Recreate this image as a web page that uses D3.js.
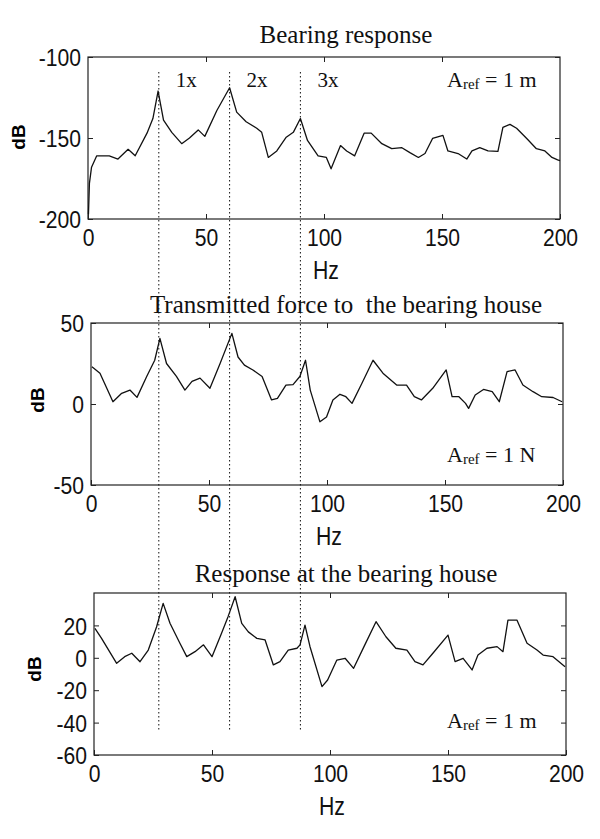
<!DOCTYPE html>
<html>
<head>
<meta charset="utf-8">
<script src="https://cdn.jsdelivr.net/npm/d3@7"></script>
<style>
  body { margin: 0; background: #fff; }
</style>
</head>
<body>
<div class="container"></div>
<script>
// frequency axis ticks
let hzTicks = [0, 50, 100, 150, 200]

// harmonic markers (Hz)
let harmonics = [30, 60, 90]
let harmonicNames = ['1x', '2x', '3x']

// bearing response, dB re 1 m
let hz1 = [0.2, 0.6, 1.5, 3.7, 9, 12.7, 17, 20, 25, 27.5, 29.7, 32, 35.5, 39.7, 43, 46.7, 49.5, 54.6, 60, 63, 67, 71.5, 73.6, 76.4, 80, 84, 87, 90, 93, 97.5, 101, 103, 107, 109.6, 113, 117, 120, 124.5, 128.7, 133, 136.4, 140, 142.8, 146, 150.4, 152.5, 156.8, 160.5, 162.7, 166, 169.5, 173.7, 175.8, 178.8, 181.6, 185.9, 190, 193.6, 196.6, 199, 200]
let db1 = [-197, -178, -168, -161, -161, -163, -157, -161, -147, -138, -121, -139, -146.5, -153.5, -150, -145, -149, -133, -119, -134, -140, -144, -146.5, -162, -158, -149.5, -146.5, -138, -151.5, -161, -162, -169, -154.7, -158, -161, -147, -147, -153.5, -156.6, -156, -159, -162, -159.6, -150.3, -148.4, -158, -159.6, -163, -158, -156, -158, -158.3, -143.5, -141.6, -144, -150.3, -156.6, -158, -162, -163.5, -164]

// transmitted force, dB re 1 N
let hz2 = [0.4, 3.8, 9.3, 13, 16.5, 19.5, 23.6, 27, 29.2, 32, 36.2, 39.8, 42.8, 46.2, 50.4, 54.7, 59.7, 62.3, 65, 68.6, 72.5, 76.5, 79, 82.6, 85.6, 88.5, 90.9, 92.9, 97, 99.8, 102.5, 105.5, 108, 110.6, 114.8, 119.5, 123.7, 129.5, 133.7, 137, 140, 144.8, 150.5, 153, 155.9, 158.7, 160, 162.8, 166.3, 170, 173, 176.3, 179.7, 183, 187.3, 191, 195.8, 199.6]
let db2 = [23, 19, 1.4, 6.6, 8.6, 4.1, 17, 27, 40.5, 25, 17, 8.6, 14, 16, 9.7, 25, 43.6, 29, 24, 21, 17, 2.5, 3.5, 11.7, 12, 17, 27, 8.6, -11, -8, 2.5, 6, 4.5, 0.4, 12.8, 27, 19, 11.7, 11.7, 4.5, 2.5, 9.7, 21, 4.5, 4.5, 0.4, -2.7, 5.6, 9, 7.6, 1.4, 20, 21, 11.7, 7.6, 4.5, 4, 1.4]

// response at bearing house, dB re 1 m
let hz3 = [0.4, 3.2, 9.6, 13, 16, 19.5, 23, 26.5, 29.3, 32.2, 36.4, 39.3, 42.8, 46.4, 50, 54, 56.8, 59.8, 62.6, 65.4, 69, 72.5, 76, 78.8, 82.3, 86, 87.3, 89.4, 91.5, 96.6, 99, 102.9, 106.4, 110, 114.4, 119.5, 123.7, 127.9, 132.6, 136, 139.4, 143.6, 150, 153, 156.4, 160.2, 162.7, 166.5, 170.8, 173.3, 175.4, 179.2, 183.5, 187.7, 190.3, 194.5, 199.6]
let db3 = [18.2, 12, -3.4, 0.7, 2.8, -2.4, 4.8, 19, 33.6, 21.3, 9, 0.7, 3.8, 8, 0.7, 15, 25.4, 37.7, 21.3, 16, 12, 11, -4.4, -2.4, 4.8, 5.9, 8, 20.2, 7, -17.8, -13.7, -1.4, -0.3, -6.5, 6.9, 22.3, 13, 5.9, 4.8, -2.4, -4.4, 2.8, 14, -2.4, -0.3, -7.5, 1.7, 5.9, 6.9, 3.8, 23.3, 23.3, 9, 4.8, 1.7, 0.7, -5.5]

let serif = '"Liberation Serif", "Times New Roman", serif'
let sans = '"Liberation Sans", Arial, sans-serif'

let svg = d3.select('.container')
    .append('svg')
    .attr('width', 600)
    .attr('height', 839)

let panels = [
    {title: 'Bearing response', hz: hz1, db: db1, domain: [-200, -100], ticks: [-200, -150, -100],
     left: 88, top: 57, dbX: 18, dbY: 137, titleY: 43, unit: 'm', refY: 87},
    {title: 'Transmitted force to\u00a0 the bearing house', hz: hz2, db: db2, domain: [-50, 50], ticks: [-50, 0, 50],
     left: 91, top: 323, dbX: 37, dbY: 400, titleY: 313, unit: 'N', refY: 462},
    {title: 'Response at the bearing house', hz: hz3, db: db3, domain: [-60, 40], ticks: [-60, -40, -20, 0, 20],
     left: 94, top: 593, dbX: 34, dbY: 669, titleY: 582, unit: 'm', refY: 728}
]

let w = 472, h = 162
let scales = []
let fmt = (d) => String(d)

panels.forEach(function(p){
    let x = d3.scaleLinear().domain([0, 200]).range([p.left, p.left + w])
    let y = d3.scaleLinear().domain(p.domain).range([p.top + h, p.top])
    scales.push(x)

    // box
    svg.append('rect')
        .attr('x', p.left).attr('y', p.top)
        .attr('width', w).attr('height', h)
        .attr('fill', 'none')
        .attr('stroke', '#222')
        .attr('stroke-width', 1.2)

    // bottom axis with labels, inward ticks
    let gx = svg.append('g')
        .attr('transform', 'translate(0,' + (p.top + h) + ')')
        .call(d3.axisBottom(x).tickValues(hzTicks).tickFormat(fmt).tickSizeInner(-5).tickSizeOuter(0).tickPadding(10))
    gx.select('.domain').remove()
    gx.selectAll('text')
        .style('font-family', sans).style('font-size', '24px')
        .attr('fill', '#111')
        .attr('transform', 'scale(0.88,1)')

    // top axis, ticks only
    let gt = svg.append('g')
        .attr('transform', 'translate(0,' + p.top + ')')
        .call(d3.axisTop(x).tickValues(hzTicks.slice(1, -1)).tickSizeInner(-5).tickSizeOuter(0).tickFormat(''))
    gt.select('.domain').remove()

    // left axis
    let gy = svg.append('g')
        .attr('transform', 'translate(' + p.left + ',0)')
        .call(d3.axisLeft(y).tickValues(p.ticks).tickFormat(fmt).tickSizeInner(-5).tickSizeOuter(0).tickPadding(8))
    gy.select('.domain').remove()
    gy.selectAll('text')
        .style('font-family', sans).style('font-size', '24px')
        .attr('fill', '#111')
        .attr('dy', '0.36em')
        .attr('transform', 'scale(0.88,1)')

    // right axis, ticks only
    let gr = svg.append('g')
        .attr('transform', 'translate(' + (p.left + w) + ',0)')
        .call(d3.axisRight(y).tickValues(p.ticks).tickSizeInner(-5).tickSizeOuter(0).tickFormat(''))
    gr.select('.domain').remove()

    svg.selectAll('.tick line').attr('stroke', '#222')

    // curve
    let pts = p.hz.map((d, i) => [d, p.db[i]])
    let line = d3.line()
        .x((d) => x(d[0]))
        .y((d) => y(d[1]))
    svg.append('path')
        .attr('d', line(pts))
        .attr('fill', 'none')
        .attr('stroke', '#111')
        .attr('stroke-width', 1.3)
        .attr('stroke-linejoin', 'round')

    // title
    svg.append('text')
        .attr('x', 346).attr('y', p.titleY)
        .attr('text-anchor', 'middle')
        .style('font-family', serif)
        .style('font-size', '25px')
        .attr('fill', '#111')
        .text(p.title)

    // y label
    svg.append('text')
        .attr('transform', 'translate(' + p.dbX + ',' + p.dbY + ') rotate(-90)')
        .attr('text-anchor', 'middle')
        .attr('dominant-baseline', 'central')
        .style('font-family', sans)
        .style('font-weight', 'bold')
        .style('font-size', '19px')
        .text('dB')

    // x label
    svg.append('text')
        .attr('transform', 'translate(' + (x(100) + 2) + ',' + (p.top + h + 60) + ') scale(0.85,1)')
        .attr('text-anchor', 'middle')
        .style('font-family', sans)
        .style('font-size', '25px')
        .attr('fill', '#111')
        .text('Hz')

    // reference amplitude note
    let ref = svg.append('text')
        .attr('x', 447).attr('y', p.refY)
        .style('font-family', serif)
        .style('font-size', '22px')
        .attr('fill', '#111')
    ref.append('tspan').text('A')
    ref.append('tspan').style('font-size', '15px').attr('dy', 2).text('ref')
    ref.append('tspan').attr('dy', -2).text(' = 1 ' + p.unit)
})

// harmonic marker lines, through all three panels
let xTop = scales[0]
svg.selectAll('.harmonic')
    .data(harmonics)
    .enter().append('line')
    .attr('x1', (d) => xTop(d)).attr('x2', (d) => xTop(d))
    .attr('y1', 72).attr('y2', 732)
    .attr('stroke', '#111')
    .attr('stroke-width', 1)
    .attr('stroke-dasharray', '1.5,2.5')

svg.selectAll('.harmonic-label')
    .data(harmonics)
    .enter().append('text')
    .attr('x', (d) => xTop(d) + 17)
    .attr('y', 87)
    .style('font-family', serif)
    .style('font-size', '21px')
    .attr('fill', '#111')
    .text((d, i) => harmonicNames[i])
</script>
</body>
</html>
